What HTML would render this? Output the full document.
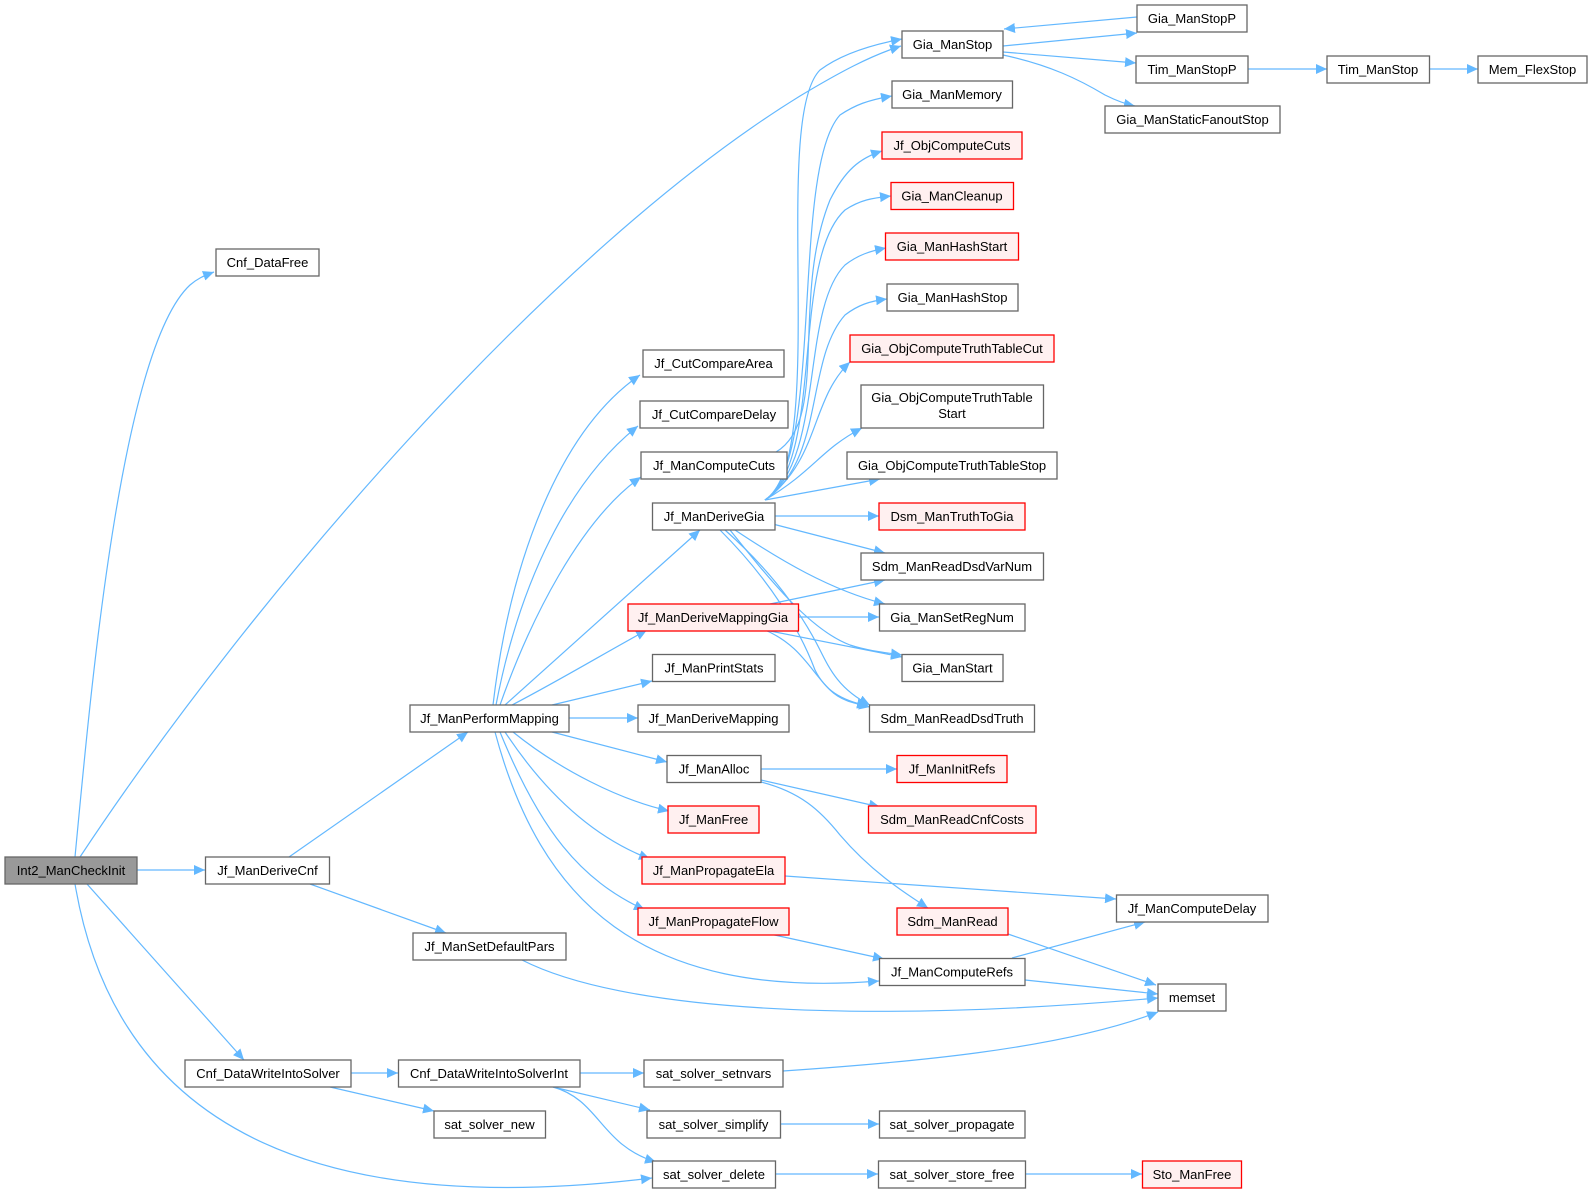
<!DOCTYPE html>
<html><head><meta charset="utf-8"><style>
html,body{margin:0;padding:0;background:#fff;}
svg{display:block;}
text{font-family:"Liberation Sans",Arial,sans-serif;font-size:13px;fill:#000;}
.n{fill:#fff;stroke:#666;stroke-width:1.3;}
.r{fill:#fff0f0;stroke:#ff0000;stroke-width:1.3;}
.g{fill:#999;stroke:#666;stroke-width:1.3;}
.e{fill:none;stroke:#63b8ff;stroke-width:1.2;}
</style></head><body>
<svg width="1592" height="1198" viewBox="0 0 1592 1198" xmlns="http://www.w3.org/2000/svg">
<defs><marker id="a" markerUnits="userSpaceOnUse" markerWidth="12" markerHeight="10" refX="11" refY="5" orient="auto"><path d="M0,0 L11,5 L0,10 z" fill="#63b8ff"/></marker></defs>
<g class="edges">
<path class="e" marker-end="url(#a)" d="M75,857 C90,700 120,350 190,285 C197,279 203,276 214,272"/>
<path class="e" marker-end="url(#a)" d="M80,857 C250,600 550,250 800,96 C840,72 870,56 901,46"/>
<path class="e" marker-end="url(#a)" d="M137,870 L205,870"/>
<path class="e" marker-end="url(#a)" d="M87,884 L244,1060"/>
<path class="e" marker-end="url(#a)" d="M75,884 C120,1150 350,1215 652,1178"/>
<path class="e" marker-end="url(#a)" d="M289,857 L468,732"/>
<path class="e" marker-end="url(#a)" d="M310,884 L446,933"/>
<path class="e" marker-end="url(#a)" d="M522,960 C620,1010 850,1025 1158,998"/>
<path class="e" marker-end="url(#a)" d="M351,1073 L398,1073"/>
<path class="e" marker-end="url(#a)" d="M330,1087 L434,1111"/>
<path class="e" marker-end="url(#a)" d="M580,1073 L644,1073"/>
<path class="e" marker-end="url(#a)" d="M553,1087 L650,1110"/>
<path class="e" marker-end="url(#a)" d="M553,1087 C600,1100 600,1145 656,1162"/>
<path class="e" marker-end="url(#a)" d="M783,1071 C900,1063 1060,1050 1158,1012"/>
<path class="e" marker-end="url(#a)" d="M781,1124 L879,1124"/>
<path class="e" marker-end="url(#a)" d="M776,1174 L878,1174"/>
<path class="e" marker-end="url(#a)" d="M1026,1174 L1142,1174"/>
<path class="e" marker-end="url(#a)" d="M493,705 C510,560 560,430 640,375"/>
<path class="e" marker-end="url(#a)" d="M496,705 C520,580 570,480 638,426"/>
<path class="e" marker-end="url(#a)" d="M500,705 C530,620 580,520 641,477"/>
<path class="e" marker-end="url(#a)" d="M505,705 L700,530"/>
<path class="e" marker-end="url(#a)" d="M512,705 C560,680 610,650 647,630"/>
<path class="e" marker-end="url(#a)" d="M552,705 L652,681"/>
<path class="e" marker-end="url(#a)" d="M569,718 L638,718"/>
<path class="e" marker-end="url(#a)" d="M552,732 L667,762"/>
<path class="e" marker-end="url(#a)" d="M513,732 C560,770 620,800 669,811"/>
<path class="e" marker-end="url(#a)" d="M505,732 C550,800 600,840 650,859"/>
<path class="e" marker-end="url(#a)" d="M500,732 C540,830 580,880 645,910"/>
<path class="e" marker-end="url(#a)" d="M495,732 C540,900 640,1000 879,981"/>
<path class="e" marker-end="url(#a)" d="M761,769 L897,769"/>
<path class="e" marker-end="url(#a)" d="M761,780 L880,807"/>
<path class="e" marker-end="url(#a)" d="M761,782 C800,792 820,810 840,835 C870,870 900,890 928,908"/>
<path class="e" marker-end="url(#a)" d="M785,876 L1116,899"/>
<path class="e" marker-end="url(#a)" d="M770,934 L884,959"/>
<path class="e" marker-end="url(#a)" d="M1012,958 L1145,922"/>
<path class="e" marker-end="url(#a)" d="M1025,980 L1158,994"/>
<path class="e" marker-end="url(#a)" d="M1008,934 L1156,985"/>
<path class="e" marker-end="url(#a)" d="M1003,46 L1137,33"/>
<path class="e" marker-end="url(#a)" d="M1137,17 L1004,29"/>
<path class="e" marker-end="url(#a)" d="M1003,52 L1136,63"/>
<path class="e" marker-end="url(#a)" d="M1003,55 C1050,65 1080,80 1105,95 C1115,100 1125,104 1135,106"/>
<path class="e" marker-end="url(#a)" d="M1248,69 L1327,69"/>
<path class="e" marker-end="url(#a)" d="M1430,69 L1478,69"/>
<path class="e" marker-end="url(#a)" d="M776,452 C830,420 790,300 830,200 C845,170 860,158 882,151"/>
<!-- DeriveGia fan up -->
<path class="e" marker-end="url(#a)" d="M765,500 C830,460 770,120 820,70 C840,55 870,45 902,39"/>
<path class="e" marker-end="url(#a)" d="M765,500 C825,460 790,170 840,115 C855,105 868,100 892,96"/>
<path class="e" marker-end="url(#a)" d="M765,500 C825,460 790,260 845,210 C860,200 872,198 891,196"/>
<path class="e" marker-end="url(#a)" d="M765,500 C825,460 800,310 845,265 C858,255 870,251 886,248"/>
<path class="e" marker-end="url(#a)" d="M765,500 C825,460 805,360 845,315 C858,305 870,301 887,299"/>
<path class="e" marker-end="url(#a)" d="M765,500 C820,460 810,400 850,362"/>
<path class="e" marker-end="url(#a)" d="M765,500 C815,470 820,450 862,428"/>
<path class="e" marker-end="url(#a)" d="M765,500 L880,479"/>
<path class="e" marker-end="url(#a)" d="M765,516 L879,516"/>
<path class="e" marker-end="url(#a)" d="M765,522 L885,553"/>
<path class="e" marker-end="url(#a)" d="M735,530 C780,560 830,590 885,604"/>
<path class="e" marker-end="url(#a)" d="M730,530 C770,580 810,630 850,645 C865,650 880,652 902,655"/>
<path class="e" marker-end="url(#a)" d="M725,530 C770,570 800,610 820,650 C830,670 840,690 870,705"/>
<path class="e" marker-end="url(#a)" d="M720,530 C770,580 800,630 815,670 C825,690 840,700 868,706"/>
<!-- DeriveMappingGia -->
<path class="e" marker-end="url(#a)" d="M770,604 L885,580"/>
<path class="e" marker-end="url(#a)" d="M798,617 L879,617"/>
<path class="e" marker-end="url(#a)" d="M765,630 L902,657"/>
<path class="e" marker-end="url(#a)" d="M765,630 C800,645 810,670 830,690 C840,700 852,703 870,707"/>
</g>
<g>
<rect class="g" x="5" y="857" width="132" height="27"/><text x="71" y="875" text-anchor="middle">Int2_ManCheckInit</text>
<rect class="n" x="216" y="249" width="103" height="27"/><text x="267.5" y="267" text-anchor="middle">Cnf_DataFree</text>
<rect class="n" x="205.5" y="857" width="124" height="27"/><text x="267.5" y="875" text-anchor="middle">Jf_ManDeriveCnf</text>
<rect class="n" x="185" y="1060" width="166" height="27"/><text x="268" y="1078" text-anchor="middle">Cnf_DataWriteIntoSolver</text>
<rect class="n" x="410" y="705" width="159" height="27"/><text x="489.5" y="723" text-anchor="middle">Jf_ManPerformMapping</text>
<rect class="n" x="413" y="933" width="153" height="27"/><text x="489.5" y="951" text-anchor="middle">Jf_ManSetDefaultPars</text>
<rect class="n" x="398.5" y="1060" width="181.5" height="27"/><text x="489" y="1078" text-anchor="middle">Cnf_DataWriteIntoSolverInt</text>
<rect class="n" x="434" y="1111" width="111.5" height="27"/><text x="489.5" y="1129" text-anchor="middle">sat_solver_new</text>

<rect class="n" x="643" y="350" width="141" height="27"/><text x="713.5" y="368" text-anchor="middle">Jf_CutCompareArea</text>
<rect class="n" x="640" y="401" width="148" height="27"/><text x="714" y="419" text-anchor="middle">Jf_CutCompareDelay</text>
<rect class="n" x="641" y="452" width="146" height="27"/><text x="714" y="470" text-anchor="middle">Jf_ManComputeCuts</text>
<rect class="n" x="652.5" y="503" width="122.5" height="27"/><text x="714" y="521" text-anchor="middle">Jf_ManDeriveGia</text>
<rect class="r" x="628" y="604" width="170.5" height="27"/><text x="713" y="622" text-anchor="middle">Jf_ManDeriveMappingGia</text>
<rect class="n" x="652.5" y="654.5" width="122.5" height="27"/><text x="714" y="672.5" text-anchor="middle">Jf_ManPrintStats</text>
<rect class="n" x="638" y="705" width="151" height="27"/><text x="713.5" y="723" text-anchor="middle">Jf_ManDeriveMapping</text>
<rect class="n" x="667" y="755.5" width="94" height="27"/><text x="714" y="773.5" text-anchor="middle">Jf_ManAlloc</text>
<rect class="r" x="668" y="806" width="91" height="27"/><text x="713.5" y="824" text-anchor="middle">Jf_ManFree</text>
<rect class="r" x="642" y="857" width="143" height="27"/><text x="713.5" y="875" text-anchor="middle">Jf_ManPropagateEla</text>
<rect class="r" x="638" y="908" width="151" height="27"/><text x="713.5" y="926" text-anchor="middle">Jf_ManPropagateFlow</text>
<rect class="n" x="644" y="1060" width="139" height="27"/><text x="713.5" y="1078" text-anchor="middle">sat_solver_setnvars</text>
<rect class="n" x="647" y="1111" width="133.5" height="27"/><text x="713.5" y="1129" text-anchor="middle">sat_solver_simplify</text>
<rect class="n" x="652.5" y="1161" width="123" height="27"/><text x="714" y="1179" text-anchor="middle">sat_solver_delete</text>

<rect class="n" x="902" y="31" width="101" height="27"/><text x="952.5" y="49" text-anchor="middle">Gia_ManStop</text>
<rect class="n" x="892" y="81" width="120.5" height="27"/><text x="952" y="99" text-anchor="middle">Gia_ManMemory</text>
<rect class="r" x="882" y="132" width="140" height="27"/><text x="952" y="150" text-anchor="middle">Jf_ObjComputeCuts</text>
<rect class="r" x="891" y="182.5" width="122.5" height="27"/><text x="952" y="200.5" text-anchor="middle">Gia_ManCleanup</text>
<rect class="r" x="885.5" y="233" width="133" height="27"/><text x="952" y="251" text-anchor="middle">Gia_ManHashStart</text>
<rect class="n" x="887" y="284" width="131" height="27"/><text x="952.5" y="302" text-anchor="middle">Gia_ManHashStop</text>
<rect class="r" x="850" y="335" width="204" height="27"/><text x="952" y="353" text-anchor="middle">Gia_ObjComputeTruthTableCut</text>
<rect class="n" x="861" y="385" width="182.5" height="43"/><text x="952" y="402" text-anchor="middle">Gia_ObjComputeTruthTable</text><text x="952" y="418" text-anchor="middle">Start</text>
<rect class="n" x="847" y="452" width="210" height="27"/><text x="952" y="470" text-anchor="middle">Gia_ObjComputeTruthTableStop</text>
<rect class="r" x="879" y="503" width="146" height="27"/><text x="952" y="521" text-anchor="middle">Dsm_ManTruthToGia</text>
<rect class="n" x="861" y="553" width="182.5" height="27"/><text x="952" y="571" text-anchor="middle">Sdm_ManReadDsdVarNum</text>
<rect class="n" x="879.5" y="604" width="145.5" height="27"/><text x="952" y="622" text-anchor="middle">Gia_ManSetRegNum</text>
<rect class="n" x="902" y="654.5" width="101" height="27"/><text x="952.5" y="672.5" text-anchor="middle">Gia_ManStart</text>
<rect class="n" x="869.5" y="705" width="165" height="27"/><text x="952" y="723" text-anchor="middle">Sdm_ManReadDsdTruth</text>
<rect class="r" x="897" y="755.5" width="110" height="27"/><text x="952" y="773.5" text-anchor="middle">Jf_ManInitRefs</text>
<rect class="r" x="868.5" y="806" width="167.5" height="27"/><text x="952" y="824" text-anchor="middle">Sdm_ManReadCnfCosts</text>
<rect class="r" x="897" y="908" width="111" height="27"/><text x="952.5" y="926" text-anchor="middle">Sdm_ManRead</text>
<rect class="n" x="879.5" y="958.5" width="145.5" height="27"/><text x="952" y="976.5" text-anchor="middle">Jf_ManComputeRefs</text>
<rect class="n" x="879.5" y="1111" width="145.5" height="27"/><text x="952" y="1129" text-anchor="middle">sat_solver_propagate</text>
<rect class="n" x="878.5" y="1161" width="147" height="27"/><text x="952" y="1179" text-anchor="middle">sat_solver_store_free</text>

<rect class="n" x="1137" y="5" width="110" height="27"/><text x="1192" y="23" text-anchor="middle">Gia_ManStopP</text>
<rect class="n" x="1136" y="56" width="112" height="27"/><text x="1192" y="74" text-anchor="middle">Tim_ManStopP</text>
<rect class="n" x="1105" y="106" width="175" height="27"/><text x="1192.5" y="124" text-anchor="middle">Gia_ManStaticFanoutStop</text>
<rect class="n" x="1116.5" y="895" width="151.5" height="27"/><text x="1192" y="913" text-anchor="middle">Jf_ManComputeDelay</text>
<rect class="n" x="1158" y="984" width="68" height="27"/><text x="1192" y="1002" text-anchor="middle">memset</text>
<rect class="r" x="1142.5" y="1161" width="99" height="27"/><text x="1192" y="1179" text-anchor="middle">Sto_ManFree</text>
<rect class="n" x="1327" y="56" width="102.5" height="27"/><text x="1378" y="74" text-anchor="middle">Tim_ManStop</text>
<rect class="n" x="1478" y="56" width="109" height="27"/><text x="1532.5" y="74" text-anchor="middle">Mem_FlexStop</text>
</g>
</svg>
</body></html>
